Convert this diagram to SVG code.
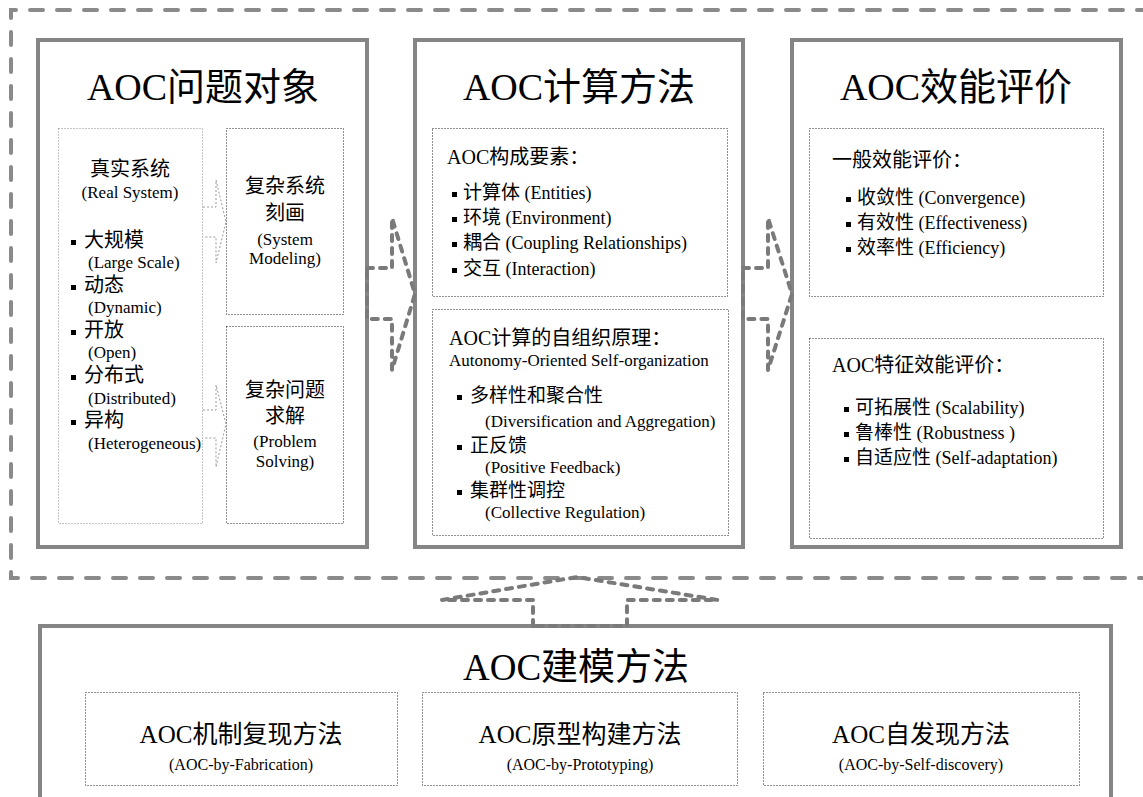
<svg xmlns="http://www.w3.org/2000/svg" width="1143" height="797" viewBox="0 0 1143 797">
<style>
.panel{fill:#fff;stroke:#858585;stroke-width:4}
.frame{fill:none;stroke:#8a8a8a;stroke-width:4;stroke-dasharray:13 14;stroke-linecap:round}
.dot{fill:none;stroke:#222;stroke-width:1;stroke-dasharray:1 2}
.dotl{fill:none;stroke:#888;stroke-width:1;stroke-dasharray:1 2}
.big{fill:none;stroke:#7a7a7a;stroke-width:4;stroke-dasharray:6 7;stroke-linecap:round;stroke-linejoin:round}
.small{fill:none;stroke:#999;stroke-width:1;stroke-dasharray:2 2}
text{font-family:"Liberation Serif","Noto Sans CJK SC",serif;fill:#000}
.title{font-size:38px;text-anchor:middle}
.h{font-size:20px}
.c{font-size:20px}
.c19{font-size:19px}
.e{font-size:17px}
.i{font-size:18px}
.m{text-anchor:middle}
.b{fill:#000}
</style>
<g id="frame">
<path class="frame" d="M1150 10 H11 V578 H1150"/>
</g>
<g id="panel-problem">
<rect class="panel" x="38" y="40" width="329" height="507"/>
<text class="title" x="203" y="100">AOC问题对象</text>
<rect class="dotl" x="58.5" y="128.5" width="144" height="395"/>
<text class="c m" x="130" y="176">真实系统</text>
<text class="e m" x="130" y="198">(Real System)</text>
<rect class="b" x="71" y="240" width="5" height="5"/>
<text class="c" x="84" y="247">大规模</text>
<text class="e" x="88" y="268">(Large Scale)</text>
<rect class="b" x="71" y="285" width="5" height="5"/>
<text class="c" x="84" y="292">动态</text>
<text class="e" x="88" y="313">(Dynamic)</text>
<rect class="b" x="71" y="330" width="5" height="5"/>
<text class="c" x="84" y="337">开放</text>
<text class="e" x="88" y="358">(Open)</text>
<rect class="b" x="71" y="375" width="5" height="5"/>
<text class="c" x="84" y="382">分布式</text>
<text class="e" x="88" y="404">(Distributed)</text>
<rect class="b" x="71" y="420" width="5" height="5"/>
<text class="c" x="84" y="427">异构</text>
<text class="e" x="88" y="449">(Heterogeneous)</text>
<rect class="dot" x="226.5" y="128.5" width="117" height="186"/>
<text class="c m" x="285" y="193">复杂系统</text>
<text class="c m" x="285" y="220">刻画</text>
<text class="e m" x="285" y="245">(System</text>
<text class="e m" x="285" y="264">Modeling)</text>
<rect class="dot" x="226.5" y="326.5" width="117" height="197"/>
<text class="c m" x="285" y="397">复杂问题</text>
<text class="c m" x="285" y="423">求解</text>
<text class="e m" x="285" y="447">(Problem</text>
<text class="e m" x="285" y="467">Solving)</text>
</g>
<g id="panel-method">
<rect class="panel" x="415" y="40" width="328" height="507"/>
<text class="title" x="579" y="100">AOC计算方法</text>
<rect class="dot" x="432.5" y="128.5" width="295" height="168"/>
<text class="h" x="447" y="164">AOC构成要素：</text>
<rect class="b" x="452" y="192" width="5" height="5"/>
<text class="i" x="463" y="199"><tspan font-size="19">计算体</tspan> (Entities)</text>
<rect class="b" x="452" y="217" width="5" height="5"/>
<text class="i" x="463" y="224"><tspan font-size="19">环境</tspan> (Environment)</text>
<rect class="b" x="452" y="242" width="5" height="5"/>
<text class="i" x="463" y="249"><tspan font-size="19">耦合</tspan> (Coupling Relationships)</text>
<rect class="b" x="452" y="268" width="5" height="5"/>
<text class="i" x="463" y="275"><tspan font-size="19">交互</tspan> (Interaction)</text>
<rect class="dot" x="432.5" y="309.5" width="296" height="226"/>
<text class="h" x="449" y="345">AOC计算的自组织原理：</text>
<text class="e" x="449" y="366">Autonomy-Oriented Self-organization</text>
<rect class="b" x="457" y="395" width="5" height="5"/>
<text class="c19" x="470" y="402">多样性和聚合性</text>
<text class="e" x="485" y="427">(Diversification and Aggregation)</text>
<rect class="b" x="457" y="445" width="5" height="5"/>
<text class="c19" x="470" y="452">正反馈</text>
<text class="e" x="485" y="473">(Positive Feedback)</text>
<rect class="b" x="457" y="490" width="5" height="5"/>
<text class="c19" x="470" y="497">集群性调控</text>
<text class="e" x="485" y="518">(Collective Regulation)</text>
</g>
<g id="panel-eval">
<rect class="panel" x="792" y="40" width="329" height="507"/>
<text class="title" x="956" y="100">AOC效能评价</text>
<rect class="dot" x="809.5" y="128.5" width="294" height="168"/>
<text class="h" x="832" y="167">一般效能评价：</text>
<rect class="b" x="846" y="197" width="5" height="5"/>
<text class="i" x="857" y="204"><tspan font-size="19">收敛性</tspan> (Convergence)</text>
<rect class="b" x="846" y="222" width="5" height="5"/>
<text class="i" x="857" y="229"><tspan font-size="19">有效性</tspan> (Effectiveness)</text>
<rect class="b" x="846" y="247" width="5" height="5"/>
<text class="i" x="857" y="254"><tspan font-size="19">效率性</tspan> (Efficiency)</text>
<rect class="dot" x="809.5" y="338.5" width="294" height="200"/>
<text class="h" x="832" y="372">AOC特征效能评价：</text>
<rect class="b" x="844" y="407" width="5" height="5"/>
<text class="i" x="855" y="414"><tspan font-size="19">可拓展性</tspan> (Scalability)</text>
<rect class="b" x="844" y="432" width="5" height="5"/>
<text class="i" x="855" y="439"><tspan font-size="19">鲁棒性</tspan> (Robustness )</text>
<rect class="b" x="844" y="457" width="5" height="5"/>
<text class="i" x="855" y="464"><tspan font-size="19">自适应性</tspan> (Self-adaptation)</text>
</g>
<g id="panel-modeling">
<rect class="panel" x="40" y="626" width="1071" height="190"/>
<text class="title" x="576" y="680" style="font-size:37px">AOC建模方法</text>
<rect class="dot" x="85.5" y="692.5" width="312" height="93"/>
<text class="m" x="241" y="743" font-size="25">AOC机制复现方法</text>
<text class="m" x="241" y="770" font-size="16">(AOC-by-Fabrication)</text>
<rect class="dot" x="422.5" y="692.5" width="315" height="93"/>
<text class="m" x="580" y="743" font-size="25">AOC原型构建方法</text>
<text class="m" x="580" y="770" font-size="16">(AOC-by-Prototyping)</text>
<rect class="dot" x="763.5" y="692.5" width="316" height="93"/>
<text class="m" x="921" y="743" font-size="25">AOC自发现方法</text>
<text class="m" x="921" y="770" font-size="16">(AOC-by-Self-discovery)</text>
</g>
<g id="connectors">
<path class="small" d="M203 207 H216 V180 L226 222 L216 263 V237 H203"/>
<path class="small" d="M203 410 H216 V385 L226 424 L216 467 V438 H203"/>
<path class="big" d="M367 268 H392 V218 L415 294 L392 370 V319 H367 Z"/>
<path class="big" d="M743 268 H768 V218 L792 294 L768 370 V319 H743 Z"/>
<path class="big" d="M533 626 V600 H442 L577 577 L718 600 H627 V626 Z"/>
</g>
</svg>
